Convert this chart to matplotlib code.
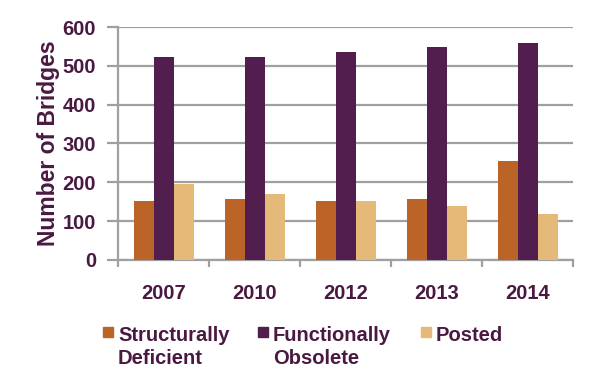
import numpy as np
import matplotlib.pyplot as plt
from matplotlib.patches import Rectangle


# data
years = ["2007", "2010", "2012", "2013", "2014"]
structurally_deficient = [153, 158, 153, 158, 254]
functionally_obsolete = [522, 522, 535, 548, 558]
posted = [195, 170, 151, 140, 117]

labels = ["Structurally\nDeficient", "Functionally\nObsolete", "Posted"]
colors = ["#BC6428", "#521E4E", "#E5B978"]
text_color = "#4A1942"
grid_color = "#A0A0A0"

plt.rcParams["font.family"] = ["Liberation Sans", "DejaVu Sans"]
plt.rcParams["font.weight"] = "bold"
plt.rcParams["axes.labelweight"] = "bold"

fig = plt.figure(figsize=(6, 3.92), dpi=100)
ax = fig.add_axes([0.197, 0.337, 0.758, 0.594])

x = np.arange(len(years))
w = 0.22
series = [structurally_deficient, functionally_obsolete, posted]
for i, vals in enumerate(series):
    ax.bar(x + (i - 1) * w, vals, width=w, color=colors[i], zorder=3)

ax.set_xlim(-0.5, len(years) - 0.5)
ax.set_ylim(0, 600)
ax.set_yticks(np.arange(0, 601, 100))
ax.grid(axis="y", color=grid_color, linewidth=1.6, zorder=0)

# category boundary ticks, labels centred
ax.set_xticks(np.arange(-0.5, len(years), 1))
ax.set_xticklabels([])
ax.set_xticks(x, minor=True)
ax.set_xticklabels(years, minor=True)
ax.tick_params(axis="x", which="major", length=5, width=1.6, color=grid_color, direction="out")
ax.tick_params(axis="x", which="minor", length=0, pad=17, labelsize=14.5, labelcolor=text_color)
ax.tick_params(axis="y", length=8, width=1.6, color=grid_color, pad=8, labelsize=14.5,
               labelcolor=text_color)

for s in ["top", "right"]:
    ax.spines[s].set_visible(False)
for s in ["left", "bottom"]:
    ax.spines[s].set_color(grid_color)
    ax.spines[s].set_linewidth(1.6)

ax.set_ylabel("Number of Bridges", fontsize=16.5, color=text_color, labelpad=2)

# legend below the plot, squares aligned with first line
legend_x = [103, 258, 421]
for lx, lab, col in zip(legend_x, labels, colors):
    fig.add_artist(Rectangle((lx / 600, 1 - 337 / 392), 10 / 600, 10 / 392,
                             transform=fig.transFigure, color=col))
    fig.text((lx + 15) / 600, 1 - 326 / 392, lab, fontsize=14.5, color=text_color,
             va="top", ha="left", linespacing=1.25)

plt.savefig("out.png", dpi=100)
